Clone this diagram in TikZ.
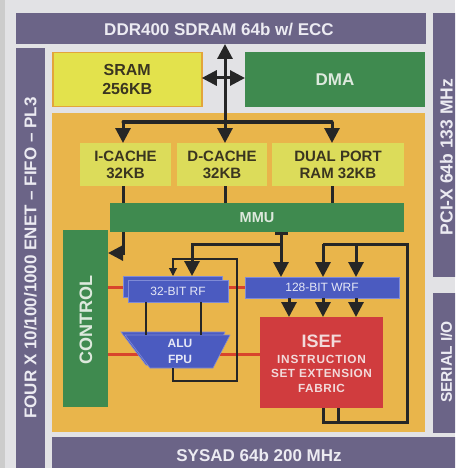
\documentclass[tikz,border=0pt]{standalone}
\usepackage{fontspec}
\setmainfont{Liberation Sans}
\usetikzlibrary{arrows.meta,calc}
\definecolor{bgc}{HTML}{E2E2E5}
\definecolor{purp}{HTML}{6B6487}
\definecolor{ptext}{HTML}{ECEBF2}
\definecolor{orng}{HTML}{E9B54B}
\definecolor{sramc}{HTML}{E3E24C}
\definecolor{sramb}{HTML}{E3A53A}
\definecolor{cachec}{HTML}{DCDC5A}
\definecolor{grn}{HTML}{3F8A4F}
\definecolor{gtext}{HTML}{DDE9DD}
\definecolor{blu}{HTML}{4B5BC0}
\definecolor{bluedge}{HTML}{7F8AD6}
\definecolor{btext}{HTML}{E6E8F6}
\definecolor{rd}{HTML}{D03C3E}
\definecolor{rtext}{HTML}{F2DADA}
\definecolor{rline}{HTML}{D8442C}
\definecolor{blk}{HTML}{262626}
\definecolor{dtext}{HTML}{3A3520}
\begin{document}
\begin{tikzpicture}[x=1pt,y=-1pt,
  box/.style={anchor=north west,inner sep=0pt,outer sep=0pt,align=center},
  barbox/.style={box,fill=purp},
  bartext/.style={text=ptext,font=\bfseries\fontsize{17}{17}\selectfont,inner sep=0pt},
  cachebox/.style={box,fill=cachec,text=dtext,font=\bfseries\fontsize{15}{17}\selectfont},
  greenbox/.style={box,fill=grn,text=gtext},
  bluebox/.style={box,fill=blu,draw=bluedge,line width=0.6pt,text=btext,font=\fontsize{12}{14}\selectfont},
  bk/.style={draw=blk,line width=3pt},
  thinbk/.style={draw=blk,line width=1.1pt},
  redline/.style={draw=rline,line width=3pt},
  bigtip/.tip={Triangle[width=15pt,length=15pt]},
  smalltip/.tip={Triangle[width=8pt,length=8pt]}]
\clip (0,0) rectangle (455,468);
\fill[bgc] (0,0) rectangle (455,468);
\fill[black!20] (0,0) rectangle (5,468);
% outer bars
\node[barbox,minimum width=410,minimum height=31] (ddr) at (16,13) {};
\node[bartext] (ddrt) at (219,30) {DDR400 SDRAM 64b w/ ECC};
\node[barbox,minimum width=29,minimum height=430] (enet) at (16,48) {};
\node[bartext,rotate=90] (enett) at (30.5,258) {FOUR X 10/100/1000 ENET -- FIFO -- PL3};
\node[barbox,minimum width=30,minimum height=264] (pci) at (433,13) {};
\node[bartext,rotate=90,font=\bfseries\fontsize{17.5}{17.5}\selectfont] (pcit) at (446.5,157) {PCI-X 64b 133 MHz};
\node[barbox,minimum width=30,minimum height=140] (ser) at (433,293) {};
\node[bartext,rotate=90,font=\bfseries\fontsize{15.5}{15.5}\selectfont] (sert) at (446.5,362) {SERIAL I/O};
\node[barbox,minimum width=414,minimum height=36] (sys) at (52,437) {};
\node[bartext] (syst) at (259,455) {SYSAD 64b 200 MHz};
% top blocks
\node[box,fill=sramc,draw=sramb,line width=1.5pt,minimum width=149,minimum height=54,text=dtext,font=\bfseries\fontsize{16}{19}\selectfont] (sram) at (52.75,52.75) {SRAM\\256KB};
\node[greenbox,minimum width=180,minimum height=55,font=\bfseries\fontsize{17}{17}\selectfont] (dma) at (245,52) {DMA};
% main orange block
\node[box,fill=orng,minimum width=373,minimum height=319] (main) at (52,113) {};
% caches
\node[cachebox,minimum width=91,minimum height=43] (icache) at (80,143) {I-CACHE\\32KB};
\node[cachebox,minimum width=90,minimum height=43] (dcache) at (177,143) {D-CACHE\\32KB};
\node[cachebox,minimum width=132,minimum height=43] (dport) at (272,143) {DUAL PORT\\RAM 32KB};
\node[greenbox,minimum width=294,minimum height=29,font=\bfseries\fontsize{14.5}{14.5}\selectfont] (mmu) at (110,203) {MMU};
\node[greenbox,minimum width=45,minimum height=177] (control) at (63,230) {};
\node[text=gtext,rotate=90,font=\bfseries\fontsize{18}{18}\selectfont,inner sep=0pt] (controlt) at (86,320) {CONTROL};
% red buses (behind units)
\draw[redline] (control.east |- 0,287) -- (245,287);
\draw[redline] (control.east |- 0,354) -- (260,354);
% register files
\node[bluebox,minimum width=99,minimum height=21] (rfb) at (123,276) {};
\node[bluebox,minimum width=100,minimum height=22] (rf) at (128,280) {32-BIT RF};
\node[bluebox,minimum width=154,minimum height=21] (wrf) at (245,277) {128-BIT WRF};
% ALU
\draw[fill=blu,draw=bluedge,line width=0.6pt] (121,332) -- (225,332) -- (209,365) -- (146,365) -- cycle;
\draw[fill=blu,draw=bluedge,line width=0.6pt] (125,335) -- (230,335) -- (213,368) -- (150,368) -- cycle;
\node[text=btext,font=\bfseries\fontsize{12}{16}\selectfont,align=center,inner sep=0pt] (alu) at (180,351) {ALU\\FPU};
% ISEF
\node[box,fill=rd,minimum width=123,minimum height=91,text=rtext] (isef) at (260,317) {};
\node[text=rtext,align=center,inner sep=0pt,font=\bfseries\fontsize{11.8}{14.5}\selectfont] (isefu) at (321.5,364) {{\fontsize{18}{18}\selectfont ISEF}\\[1pt]\addfontfeature{LetterSpace=7}INSTRUCTION\\\addfontfeature{LetterSpace=5}SET EXTENSION\\\addfontfeature{LetterSpace=5}FABRIC};
% coordinates
\coordinate (bc) at (225,122);
\coordinate (b1) at (123,122);
\coordinate (b3) at (332,122);
\coordinate (t) at (281,233);
\coordinate (j1) at (281,244);
\coordinate (j2) at (192,244);
\coordinate (l1) at (173,368);
\coordinate (l2) at (173,381);
\coordinate (l3) at (237,381);
\coordinate (l4) at (237,259);
\coordinate (l5) at (173,259);
\coordinate (q1) at (323,408);
\coordinate (q2) at (323,422);
\coordinate (q3) at (407,422);
\coordinate (q4) at (407,244);
\coordinate (q5) at (323,244);
\coordinate (q6) at (356,244);
\coordinate (q7) at (338,408);
% top bus
\draw[bk,-bigtip] (bc) -- (ddr.south -| bc);
\draw[bk,bigtip-bigtip] (sram.east |- 0,78) -- (dma.west |- 0,78);
\draw[bk,line cap=round] (b1) -- (b3);
\draw[bk,-bigtip] (b1) -- (b1 |- icache.north);
\draw[bk,-bigtip] (bc) -- (bc |- dcache.north);
\draw[bk,-bigtip] (b3) -- (b3 |- dport.north);
% caches to MMU
\draw[bk] (icache.south -| b1) -- (mmu.north -| b1);
\draw[bk] (dcache.south -| bc) -- (mmu.north -| bc);
\draw[bk] (dport.south -| b3) -- (mmu.north -| b3);
% MMU to control
\draw[bk,-bigtip] (mmu.south -| b1) |- (control.east |- 0,253);
% MMU to register files
\draw[draw=blk,line width=3.5pt] (275,233.5) -- (288,233.5);
\draw[bk,-bigtip] (t) -- (t |- wrf.north);
\draw[bk,-bigtip] (j1) -- (j2) -- (j2 |- rfb.north);
% ALU feedback loop
\draw[thinbk,-smalltip] (l1) -- (l2) -- (l3) -- (l4) -- (l5) -- (l5 |- rfb.north);
\draw[thinbk] (rf.south -| 146,0) -- (146,335);
\draw[thinbk] (rf.south -| 201,0) -- (201,335);
% WRF to ISEF
\draw[bk,-bigtip] (wrf.south -| 289,0) -- (isef.north -| 289,0);
\draw[bk,-bigtip] (wrf.south -| q5) -- (isef.north -| q5);
\draw[bk,-bigtip] (wrf.south -| q6) -- (isef.north -| q6);
% ISEF feedback loop
\draw[bk] (q1) -- (q2) -- (q3) -- (q4) -- (q5);
\draw[bk] (q7) -- (q7 |- q2);
\draw[bk,-bigtip] (q5) -- (q5 |- wrf.north);
\draw[bk,-bigtip] (q6) -- (q6 |- wrf.north);
\end{tikzpicture}
\end{document}
